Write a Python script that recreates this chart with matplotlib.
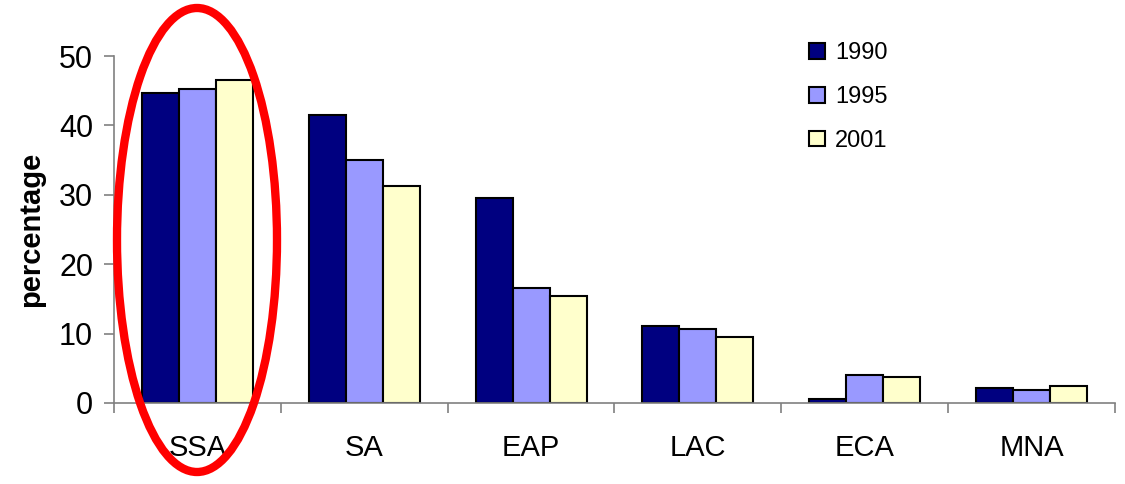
import numpy as np
import matplotlib
matplotlib.use("Agg")
import matplotlib.pyplot as plt
from matplotlib.patches import Ellipse, Patch

plt.rcParams['font.family'] = ['Liberation Sans', 'DejaVu Sans']

regions = ["SSA", "SA", "EAP", "LAC", "ECA", "MNA"]
years = ["1990", "1995", "2001"]
share_1990 = [44.7, 41.5, 29.6, 11.1, 0.6, 2.2]
share_1995 = [45.3, 35.0, 16.5, 10.7, 4.0, 1.9]
share_2001 = [46.5, 31.2, 15.4, 9.5, 3.7, 2.5]
series = [share_1990, share_1995, share_2001]
colors = ["#000080", "#9999FF", "#FFFFCC"]

fig = plt.figure(figsize=(11.25, 4.84), dpi=100)
ax = fig.add_axes([114 / 1125, 1 - 403 / 484, (1115 - 114) / 1125, (403 - 56) / 484])

x = np.arange(len(regions))
bw = 0.222
for i, (vals, c) in enumerate(zip(series, colors)):
    ax.bar(x + (i - 1) * bw, vals, width=bw, color=c, edgecolor="black",
           linewidth=1.5, label=years[i], zorder=2)

ax.set_xlim(-0.5, len(regions) - 0.5)
ax.set_ylim(0, 50)
ax.set_yticks([0, 10, 20, 30, 40, 50])
ax.set_xticks(x)
ax.set_xticklabels(regions)
ax.set_xticks(np.arange(len(regions) + 1) - 0.5, minor=True)
ax.tick_params(axis='x', which='major', length=0, labelsize=21, pad=22)
ax.tick_params(axis='x', which='minor', length=7, width=1.2, color="#808080")
ax.tick_params(axis='y', length=7, width=1.2, color="#808080", labelsize=22, pad=8)

for s in ["top", "right"]:
    ax.spines[s].set_visible(False)
for s in ["left", "bottom"]:
    ax.spines[s].set_color("#808080")
    ax.spines[s].set_linewidth(1.2)

ax.set_ylabel("percentage", fontsize=21, fontweight="bold", labelpad=10)

handles = [Patch(facecolor=c, edgecolor="black", linewidth=1.5) for c in colors]
ax.legend(handles, years, loc="upper left", bbox_to_anchor=(788 / 1125, 463 / 484),
          bbox_transform=fig.transFigure, frameon=False, fontsize=17,
          handlelength=0.65, handleheight=0.65, handletextpad=0.45, labelspacing=0.92)

# highlight around the first region group
ell = Ellipse((197 / 1125, 1 - 240 / 484), 160 / 1125, 464 / 484,
              transform=fig.transFigure, fill=False, edgecolor="#FF0000",
              linewidth=6, clip_on=False, zorder=5)
fig.patches.append(ell)

fig.savefig("out.png", dpi=100)
